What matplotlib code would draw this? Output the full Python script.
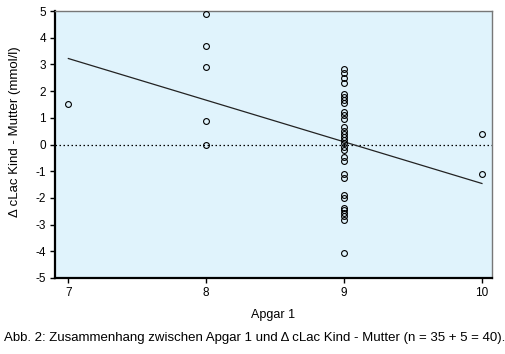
import matplotlib.pyplot as plt
import numpy as np

plt.rcParams["font.family"] = ["Liberation Sans", "DejaVu Sans"]

# Apgar 1 score per case
apgar_7 = [7]
dlac_7 = [1.50]
apgar_8 = [8, 8, 8, 8, 8]
dlac_8 = [4.88, 3.68, 2.90, 0.88, 0.0]
dlac_9 = [2.81, 2.66, 2.48, 2.31,
          1.91, 1.78, 1.66, 1.56,
          1.21, 1.09, 0.94,
          0.64, 0.51, 0.41, 0.28, 0.16, 0.04, -0.09, -0.21,
          -0.46, -0.61,
          -1.09, -1.24,
          -1.90, -2.02,
          -2.36, -2.46, -2.56, -2.69, -2.84,
          -4.08]
dlac_10 = [0.41, -1.10]

# regression line end points
fit_x = [7, 10]
fit_y = [3.22, -1.46]

x_ticks = [7, 8, 9, 10]
y_ticks = [-5, -4, -3, -2, -1, 0, 1, 2, 3, 4, 5]

apgar = np.array(apgar_7 + apgar_8 + [9] * len(dlac_9) + [10] * len(dlac_10))
dlac = np.array(dlac_7 + dlac_8 + dlac_9 + dlac_10)

fig = plt.figure(figsize=(5.05, 3.54), dpi=100)
ax = fig.add_axes([55 / 505, 1 - 278 / 354, 437 / 505, 267 / 354])
ax.set_facecolor("#e0f3fc")

ax.axhline(0, color="black", linestyle=(0, (1.2, 2)), linewidth=0.9, zorder=1)
ax.plot(fit_x, fit_y, color="#222222", linewidth=0.9, zorder=2)
ax.plot(apgar, dlac, "o", markersize=4.2, markerfacecolor="none",
        markeredgecolor="black", markeredgewidth=0.8, zorder=3)

ax.set_xlim(6.903, 10.073)
ax.set_ylim(-5, 5)
ax.set_xticks(x_ticks)
ax.set_xticklabels([str(t) for t in x_ticks])
ax.set_yticks(y_ticks)
ax.set_yticklabels([str(t) for t in y_ticks])
ax.tick_params(direction="out", length=3.5, width=1, labelsize=8.5,
               colors="black", pad=3)

for side in ["left", "bottom"]:
    ax.spines[side].set_linewidth(1.6)
    ax.spines[side].set_color("black")
for side in ["top", "right"]:
    ax.spines[side].set_linewidth(1.0)
    ax.spines[side].set_color("#777777")

ax.set_xlabel("Apgar 1", fontsize=9, labelpad=7)
ax.set_ylabel("Δ cLac Kind - Mutter (mmol/l)", fontsize=9.5)
ax.yaxis.set_label_coords(-0.078, 0.547)

fig.text(4 / 505, 1 - 338 / 354,
         "Abb. 2: Zusammenhang zwischen Apgar 1 und Δ cLac Kind - Mutter (n = 35 + 5 = 40).",
         fontsize=9.5, va="center", ha="left")

fig.savefig("out.png", dpi=100)
